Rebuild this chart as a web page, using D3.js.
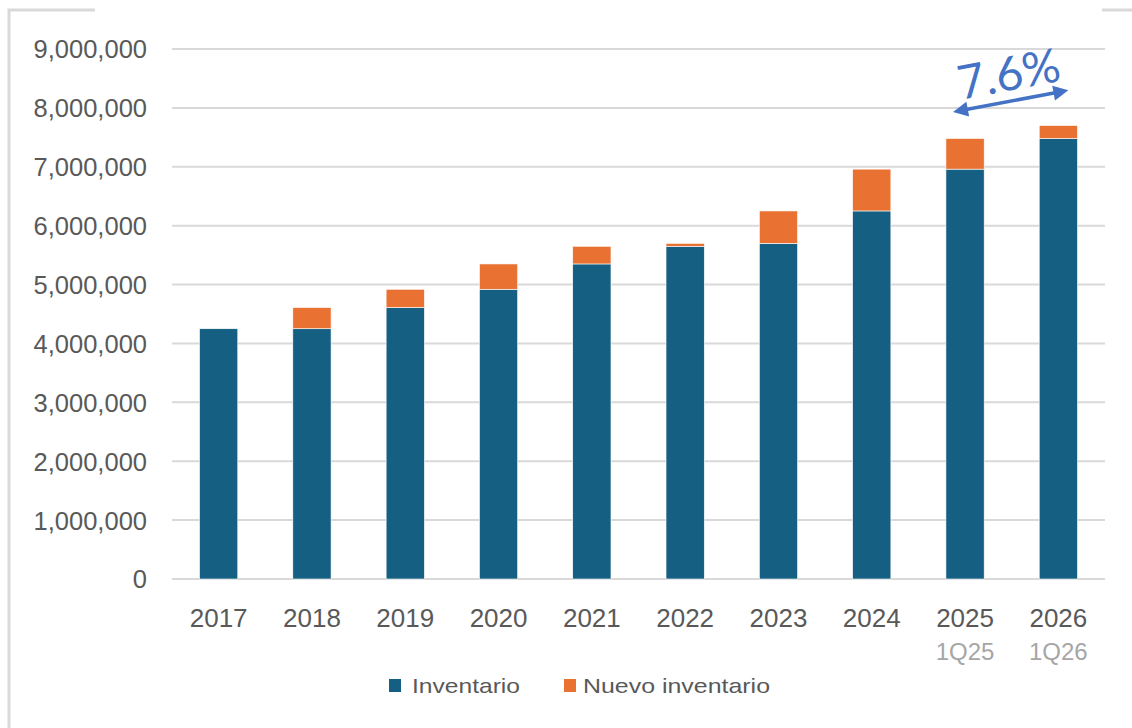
<!DOCTYPE html>
<html>
<head>
<meta charset="utf-8">
<script src="https://cdn.jsdelivr.net/npm/d3@7"></script>
<style>
  html, body { margin: 0; padding: 0; background: #fff; }
  svg { display: block; }
</style>
</head>
<body>
<svg id="chart" width="1132" height="728"></svg>
<script>
// ---- data ----
const years = ["2017", "2018", "2019", "2020", "2021", "2022", "2023", "2024", "2025", "2026"];
const subLabels = ["", "", "", "", "", "", "", "", "1Q25", "1Q26"];
const inventario = [4250000, 4250000, 4610000, 4920000, 5350000, 5650000, 5700000, 6250000, 6960000, 7480000];
const nuevoInventario = [0, 360000, 310000, 430000, 300000, 50000, 550000, 710000, 520000, 220000];
const yTicks = [0, 1000000, 2000000, 3000000, 4000000, 5000000, 6000000, 7000000, 8000000, 9000000];
const seriesNames = ["Inventario", "Nuevo inventario"];
const annotationText = "7.6%";

const colors = ["#156082", "#E97132"];
const svg = d3.select("#chart");

const x = d3.scaleBand().domain(years).range([172, 1105]).paddingInner(0.59).paddingOuter(0.295);
const y = d3.scaleLinear().domain([0, 9000000]).range([579, 49]);

// frame fragments
svg.append("path").attr("d", "M9,728 V10 H95").attr("fill", "none").attr("stroke", "#d9d9d9").attr("stroke-width", 3);
svg.append("path").attr("d", "M1102,10 H1132").attr("fill", "none").attr("stroke", "#d9d9d9").attr("stroke-width", 3);

// gridlines
svg.append("g").selectAll("line").data(yTicks).join("line")
  .attr("x1", 172).attr("x2", 1105)
  .attr("y1", d => y(d)).attr("y2", d => y(d))
  .attr("stroke", "#d9d9d9").attr("stroke-width", 2);

// y axis
const yAxis = d3.axisLeft(y).tickValues(yTicks).tickSize(0).tickPadding(0).tickFormat(d3.format(","));
const gy = svg.append("g").attr("transform", "translate(147,0)").call(yAxis);
gy.select(".domain").remove();
gy.selectAll("text").attr("font-family", "Liberation Sans, Arial, sans-serif")
  .attr("font-size", 25.5).attr("fill", "#595959").attr("dy", "0.35em");

// stacked data
const table = years.map((yr, i) => ({ year: yr, Inventario: inventario[i], Nuevo: nuevoInventario[i] }));
const stack = d3.stack().keys(["Inventario", "Nuevo"]);
const layers = stack(table);

svg.append("g").selectAll("g").data(layers).join("g")
  .attr("fill", (d, i) => colors[i])
  .selectAll("rect").data(d => d).join("rect")
  .attr("x", d => x(d.data.year))
  .attr("width", x.bandwidth())
  .attr("y", d => y(d[1]))
  .attr("height", d => Math.max(0, y(d[0]) - y(d[1])))
  .attr("stroke", "#ffffff").attr("stroke-width", 0.6);

// x axis
const xAxis = d3.axisBottom(x).tickSize(0).tickPadding(0);
const gx = svg.append("g").attr("transform", "translate(0,579)").call(xAxis);
gx.select(".domain").remove();
gx.selectAll("text").attr("font-family", "Liberation Sans, Arial, sans-serif")
  .attr("font-size", 26).attr("fill", "#595959").attr("dy", null).attr("y", 48);

// sub labels
svg.append("g").selectAll("text").data(years.filter((d, i) => subLabels[i]))
  .join("text")
  .attr("x", d => x(d) + x.bandwidth() / 2)
  .attr("y", 660)
  .attr("text-anchor", "middle")
  .attr("font-family", "Liberation Sans, Arial, sans-serif")
  .attr("font-size", 24).attr("fill", "#a6a6a6")
  .text(d => subLabels[years.indexOf(d)]);

// legend
const legendItems = [
  { name: seriesNames[0], color: colors[0], sx: 389, tx: 412, len: 108 },
  { name: seriesNames[1], color: colors[1], sx: 564, tx: 583, len: 187 }
];
const lg = svg.append("g");
legendItems.forEach(it => {
  lg.append("rect").attr("x", it.sx).attr("y", 679).attr("width", 12).attr("height", 13).attr("fill", it.color);
  lg.append("text").attr("x", it.tx).attr("y", 693)
    .attr("font-family", "Liberation Sans, Arial, sans-serif")
    .attr("font-size", 21).attr("fill", "#595959")
    .attr("textLength", it.len).attr("lengthAdjust", "spacingAndGlyphs")
    .text(it.name);
});

// annotation arrow
const ac = "#4472C4";
const x1 = x("2025") + x.bandwidth() / 2 - 12, y1 = y(7930000);
const x2 = x("2026") + x.bandwidth() / 2 + 10, y2 = y(8300000);
const ang = Math.atan2(y2 - y1, x2 - x1);
const headLen = 15, headW = 7.5;
const ux = Math.cos(ang), uy = Math.sin(ang);
const px = -uy, py = ux;
const ann = svg.append("g");
ann.append("line")
  .attr("x1", x1 + ux * headLen * 0.8).attr("y1", y1 + uy * headLen * 0.8)
  .attr("x2", x2 - ux * headLen * 0.8).attr("y2", y2 - uy * headLen * 0.8)
  .attr("stroke", ac).attr("stroke-width", 3.5);
function head(tx, ty, dir) {
  const bx = tx - dir * ux * headLen, by = ty - dir * uy * headLen;
  return [[tx, ty], [bx + px * headW, by + py * headW], [bx - px * headW, by - py * headW]];
}
[[x2, y2, 1], [x1, y1, -1]].forEach(([tx, ty, dir]) => {
  ann.append("polygon").attr("points", head(tx, ty, dir).map(p => p.join(",")).join(" ")).attr("fill", ac);
});
const angDeg = ang * 180 / Math.PI;
ann.append("text")
  .attr("transform", `translate(${(x1 + x2) / 2 + 1},${(y1 + y2) / 2 - 11}) rotate(${angDeg})`)
  .attr("text-anchor", "middle")
  .attr("font-family", "Lato, 'Open Sans', sans-serif")
  .attr("font-size", 47).attr("fill", ac)
  .text(annotationText);
</script>
</body>
</html>
